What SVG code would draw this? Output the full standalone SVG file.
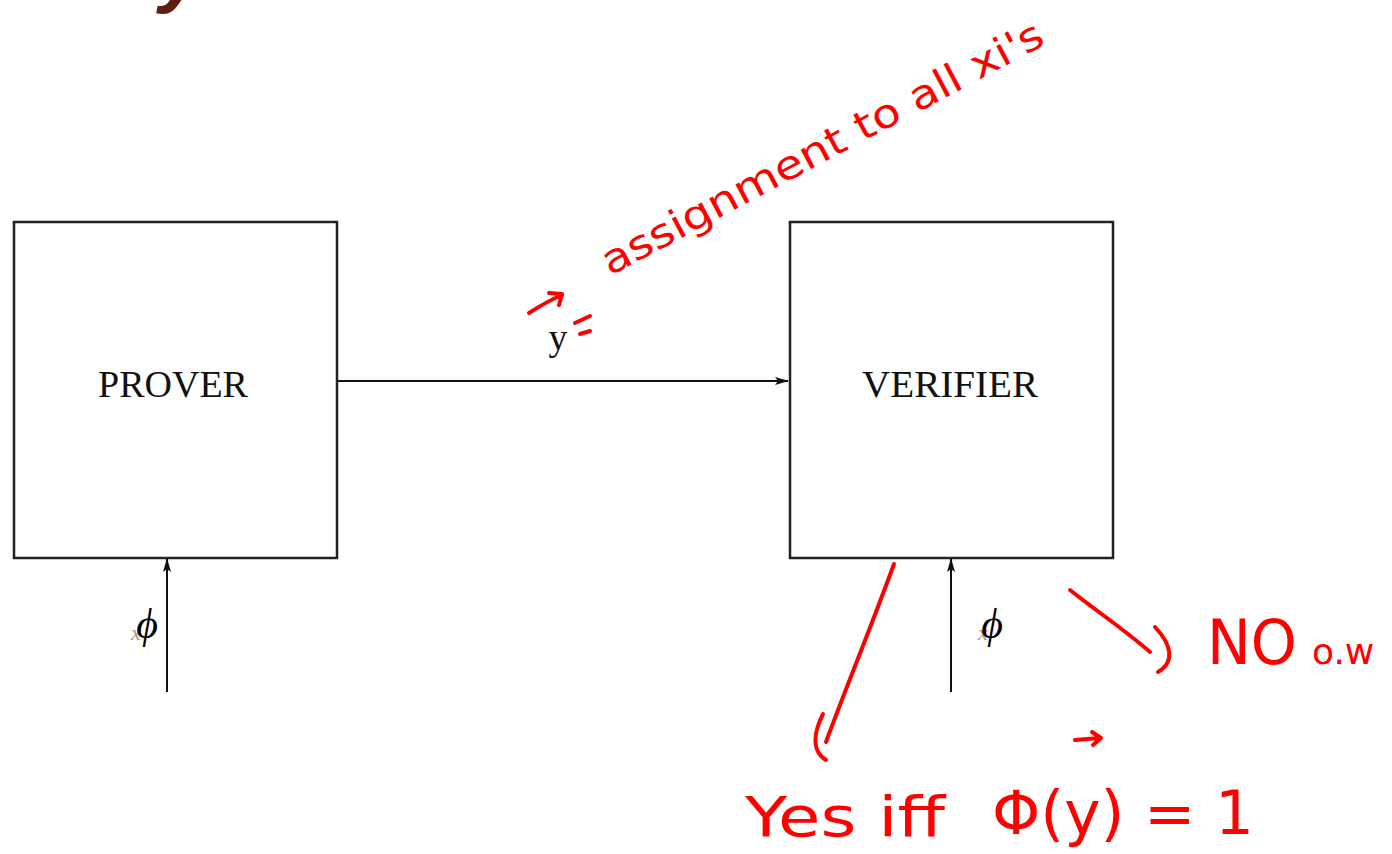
<svg xmlns="http://www.w3.org/2000/svg" width="1392" height="854" viewBox="0 0 1392 854">
<defs>
<style>
.box{fill:#fff;stroke:#222;stroke-width:2.5}
.lbl{font-family:"Liberation Serif",serif;font-size:38px;fill:#111;text-anchor:middle}
.phi{font-family:"Liberation Serif",serif;font-style:italic;font-size:42px;fill:#000;text-anchor:middle}
.xf{font-family:"Liberation Serif",serif;font-style:italic;font-size:22px;fill:#8a6a50;opacity:0.7;text-anchor:middle}
.conn{fill:none;stroke:#111;stroke-width:2}
.ink{fill:none;stroke:#ff0000;stroke-width:4;stroke-linecap:round;stroke-linejoin:round}
.hw{font-family:"DejaVu Sans","Liberation Sans",sans-serif;fill:#ff0000}
</style>
<marker id="ah" markerWidth="14" markerHeight="8" refX="13" refY="4" orient="auto" markerUnits="userSpaceOnUse">
<path d="M0,0 L14,4 L0,8 L3,4 Z" fill="#111"/>
</marker>
</defs>
<rect width="1392" height="854" fill="#fff"/>

<g id="title">
<text x="-116" y="-3" font-family="Liberation Sans,sans-serif" font-weight="bold" font-style="italic" font-size="80" fill="#5c1f12">Proof system for SAT</text>
</g>

<g id="prover">
<rect class="box" x="14" y="222" width="323" height="336"/>
<text class="lbl" x="173" y="397">PROVER</text>
</g>

<g id="verifier">
<rect class="box" x="790" y="222" width="323" height="336"/>
<text class="lbl" x="950" y="397" textLength="176" lengthAdjust="spacingAndGlyphs">VERIFIER</text>
</g>

<g id="connectors">
<line class="conn" x1="337" y1="381" x2="788" y2="381" marker-end="url(#ah)"/>
<line class="conn" x1="167" y1="692" x2="167" y2="559" marker-end="url(#ah)"/>
<line class="conn" x1="951" y1="692" x2="951" y2="559" marker-end="url(#ah)"/>
</g>

<g id="labels">
<text class="lbl" x="558" y="350" fill="#2a3550">y</text>
<text class="xf" x="136" y="640">x</text>
<text class="phi" x="147" y="638">ϕ</text>
<text class="xf" x="983" y="640">x</text>
<text class="phi" x="992" y="638">ϕ</text>
</g>

<g id="annotations">
<text class="hw" font-size="40" transform="translate(610,276) rotate(-28)" textLength="495" lengthAdjust="spacingAndGlyphs">assignment to all xi's</text>
<path class="ink" d="M529,313 C540,306 552,299 562,295 M549,293 L562,294 L559,305"/>
<path class="ink" d="M575,323 L590,316 M580,334 L590,331"/>
<path class="ink" d="M894,564 C870,630 845,690 826,742"/>
<path class="ink" d="M823,714 C815,730 810,750 826,760"/>
<path class="ink" d="M1070,590 C1095,610 1125,630 1150,652"/>
<path class="ink" d="M1155,627 C1172,645 1175,662 1158,672"/>
<text class="hw" font-size="62" x="1207" y="664" textLength="90" lengthAdjust="spacingAndGlyphs">NO</text>
<text class="hw" font-size="36" x="1312" y="664">o.w</text>
<text class="hw" font-size="56" x="745" y="836" textLength="200" lengthAdjust="spacingAndGlyphs">Yes iff</text>
<text class="hw" font-size="60" x="992" y="834" textLength="262" lengthAdjust="spacingAndGlyphs">Φ(y) = 1</text>
<path class="ink" d="M1075,740 L1100,738 M1092,732 L1101,738 L1093,745"/>
</g>
</svg>
